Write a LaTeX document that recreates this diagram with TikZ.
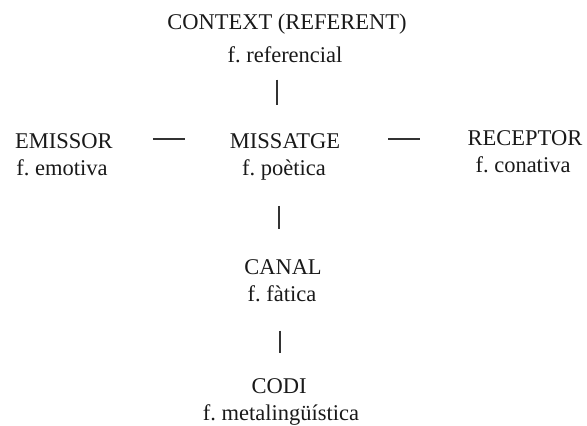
\documentclass[tikz,border=0pt]{standalone}
\usepackage{fontspec}
\setmainfont{Liberation Serif}
\usetikzlibrary{calc, positioning}

\begin{document}
\frenchspacing
\begin{tikzpicture}[x=1pt, y=-1pt, font=\fontsize{22.5}{27}\selectfont]
        \tikzset{
          lbl/.style={anchor=base, inner sep=0pt, text=black!90},
          link/.style={draw=black!80, line width=1.4pt}
        }
        \useasboundingbox (0,0) rectangle (587,426);
        % funcions del llenguatge
        \node[lbl] (context) at (287,29) {CONTEXT (REFERENT)};
        \node[lbl] (freferencial) at (285,62) {f. referencial};
        \node[lbl] (emissor) at (64,148) {EMISSOR};
        \node[lbl] (femotiva) at (62,175) {f. emotiva};
        \node[lbl] (missatge) at (285,148) {MISSATGE};
        \node[lbl] (fpoetica) at (284,175) {f. poètica};
        \node[lbl] (receptor) at (525,145) {RECEPTOR};
        \node[lbl] (fconativa) at (523,172) {f. conativa};
        \node[lbl] (canal) at (283,274) {CANAL};
        \node[lbl] (ffatica) at (282,301) {f. fàtica};
        \node[lbl] (codi) at (279,393) {CODI};
        \node[lbl] (fmetaling) at (281,420) {f. metalingüística};
        % enllacos
        \draw[link, shorten <=40pt, shorten >=45pt] ([yshift=1.5pt]emissor.east) -- ([yshift=1.5pt]missatge.west);
        \draw[link, shorten <=48pt, shorten >=47pt] ([yshift=1.5pt]missatge.east) -- ([yshift=-1.5pt]receptor.west);
        \draw[link, shorten <=17pt, shorten >=28pt] ([xshift=-8pt]freferencial.south) -- ([xshift=-8pt]missatge.north);
        \draw[link, shorten <=26pt, shorten >=30pt] ([xshift=-5pt]fpoetica.south) -- ([xshift=-4pt]canal.north);
        \draw[link, shorten <=29pt, shorten >=25pt] ([xshift=-2pt]ffatica.south) -- ([xshift=1pt]codi.north);
      \end{tikzpicture}
\end{document}
